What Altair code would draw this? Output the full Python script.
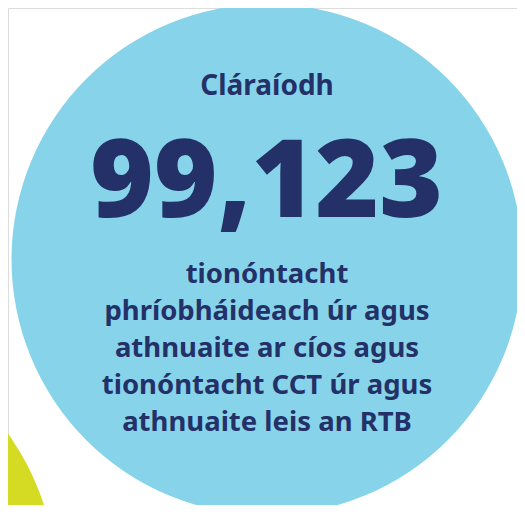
import altair as alt
import pandas as pd

# Decorative circles (page pixel coordinates of centre, radius)
circle_names = ["blue", "yellow", "main"]
circle_cx = [-363.5, -208.8, 267.0]
circle_cy = [133.0, 587.7, 259.5]
circle_r = [369.0, 266.0, 255.5]
circle_colors = ["#2B8FD0", "#D4DB22", "#87D4EA"]

# Text content
label_top = "Cláraíodh"
big_number = "99,123"
body_lines = [
    "tionóntacht",
    "phríobháideach úr agus",
    "athnuaite ar cíos agus",
    "tionóntacht CCT úr agus",
    "athnuaite leis an RTB",
]

W, H = 509, 497
NAVY = "#243168"

xs = alt.Scale(domain=[8, 8 + W], nice=False, zero=False)
ys = alt.Scale(domain=[8, 8 + H], nice=False, zero=False, reverse=True)

circles = pd.DataFrame({
    "name": circle_names,
    "cx": circle_cx,
    "cy": circle_cy,
    "d2": [(2 * r) ** 2 for r in circle_r],
})

circle_layer = alt.Chart(circles).mark_point(
    shape="circle", filled=True, opacity=1, strokeWidth=0, clip=False
).encode(
    x=alt.X("cx:Q", scale=xs, axis=None),
    y=alt.Y("cy:Q", scale=ys, axis=None),
    size=alt.Size("d2:Q", scale=None, legend=None),
    color=alt.Color("name:N", scale=alt.Scale(domain=circle_names, range=circle_colors), legend=None),
    order=alt.Order("order:Q"),
).transform_calculate(order="indexof(['blue','yellow','main'], datum.name)")

top_df = pd.DataFrame({"x": [267], "y": [95], "t": [label_top]})
top_layer = alt.Chart(top_df).mark_text(
    font="Noto Sans", fontWeight="bold", fontSize=28, color=NAVY,
    align="center", baseline="alphabetic"
).encode(x=alt.X("x:Q", scale=xs, axis=None), y=alt.Y("y:Q", scale=ys, axis=None), text="t:N")

num_df = pd.DataFrame({"x": [266.5], "y": [217], "t": [big_number]})
num_layer = alt.Chart(num_df).mark_text(
    font="Noto Sans", fontWeight=900, fontSize=109, color=NAVY,
    align="center", baseline="alphabetic"
).encode(x=alt.X("x:Q", scale=xs, axis=None), y=alt.Y("y:Q", scale=ys, axis=None), text="t:N")

body_df = pd.DataFrame({
    "x": [267] * len(body_lines),
    "y": [283 + 37 * i for i in range(len(body_lines))],
    "t": body_lines,
})
body_layer = alt.Chart(body_df).mark_text(
    font="Noto Sans", fontWeight="bold", fontSize=27.5, color=NAVY,
    align="center", baseline="alphabetic"
).encode(x=alt.X("x:Q", scale=xs, axis=None), y=alt.Y("y:Q", scale=ys, axis=None), text="t:N")

chart = alt.layer(circle_layer, top_layer, num_layer, body_layer).properties(
    width=W, height=H, padding=0, autosize=alt.AutoSizeParams(type="none")
).configure_view(strokeWidth=0, stroke="transparent").configure(background="white")

chart.save("out.html", embed_options={"renderer": "svg", "actions": False})
